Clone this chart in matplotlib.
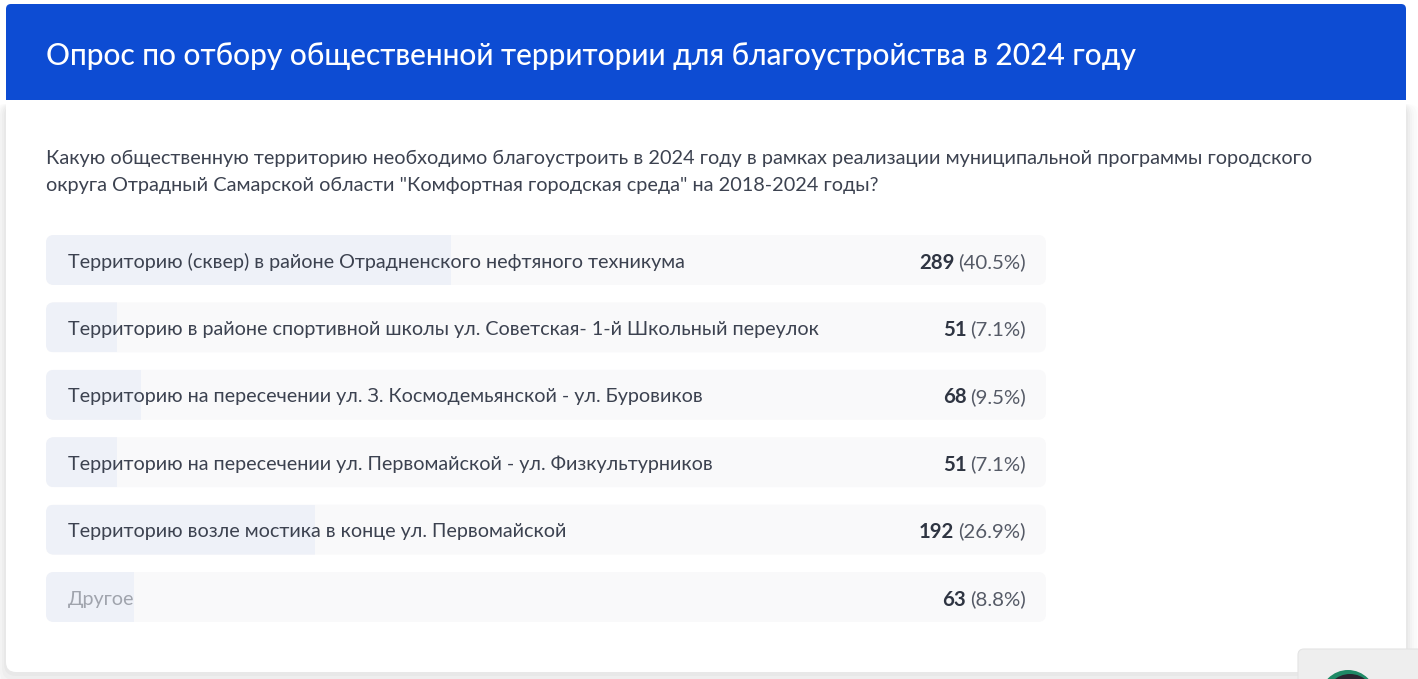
"""Survey results card: public territory vote, 2024."""

import matplotlib.patches as mpatches
import matplotlib.pyplot as plt

W, H = 1418, 679

TITLE = "Опрос по отбору общественной территории для благоустройства в 2024 году"
QUESTION = [
    "Какую общественную территорию необходимо благоустроить в 2024 году в рамках реализации муниципальной программы городского",
    "округа Отрадный Самарской области \"Комфортная городская среда\" на 2018-2024 годы?",
]
OPTIONS = [
    "Территорию (сквер) в районе Отрадненского нефтяного техникума",
    "Территорию в районе спортивной школы ул. Советская- 1-й Школьный переулок",
    "Территорию на пересечении ул. З. Космодемьянской - ул. Буровиков",
    "Территорию на пересечении ул. Первомайской - ул. Физкультурников",
    "Территорию возле мостика в конце ул. Первомайской",
    "Другое",
]
VOTES = [289, 51, 68, 51, 192, 63]
PERCENT = [40.5, 7.1, 9.5, 7.1, 26.9, 8.8]

BLUE = "#0d4cd3"
TEXT = "#3c4250"
DARK = "#2f3542"
SHARE = "#555a66"
MUTED = "#a0a4ad"
TRACK = "#f9f9fa"
FILL = "#eef1f8"

plt.rcParams["font.family"] = ["Lato", "Open Sans", "DejaVu Sans"]


def px_axes(fig, left, top, width, height):
    return fig.add_axes([left / W, 1 - (top + height) / H, width / W, height / H])


fig = plt.figure(figsize=(W / 100, H / 100), dpi=100, facecolor="white")

# page layer, in pixels
page = px_axes(fig, 0, 0, W, H)
page.set_xlim(0, W)
page.set_ylim(H, 0)
page.axis("off")

# soft card shadow, starts just under the header
for grow, alpha in [(14, 0.008), (11, 0.01), (8, 0.012), (6, 0.014), (4, 0.018), (2, 0.025)]:
    page.add_patch(mpatches.FancyBboxPatch(
        (6 - grow, 104), 1400 + 2 * grow, 568 + 2 * grow,
        boxstyle="round,pad=0,rounding_size=12", linewidth=0,
        facecolor="black", alpha=alpha))
page.add_patch(mpatches.FancyBboxPatch(
    (6, 90), 1400, 582, boxstyle="round,pad=0,rounding_size=10",
    linewidth=0, facecolor="white"))

# blue header, rounded on top only
page.add_patch(mpatches.FancyBboxPatch(
    (6, 4), 1400, 60, boxstyle="round,pad=0,rounding_size=5",
    linewidth=0, facecolor=BLUE))
page.add_patch(mpatches.Rectangle((6, 30), 1400, 70, linewidth=0, facecolor=BLUE))
page.text(46, 53, TITLE, color="white", fontsize=21.51, fontweight="medium",
          va="center_baseline", ha="left")

for y, line in zip([157, 184], QUESTION):
    page.text(46, y, line, color=TEXT, fontsize=14.34, va="center_baseline", ha="left")

# chat widget in the corner
page.add_patch(mpatches.FancyBboxPatch(
    (1298, 649), 140, 60, boxstyle="round,pad=0,rounding_size=6",
    linewidth=0.8, edgecolor="#e4e4e4", facecolor="#eeeeee", zorder=5))
page.add_patch(mpatches.Circle((1348, 698), 28, linewidth=0, facecolor="#1f8a66", zorder=6))
page.add_patch(mpatches.Circle((1350, 699), 25, linewidth=0, facecolor="#2a2530", zorder=7))

# result bars, x axis is percent of votes
ax = px_axes(fig, 46, 235, 1000, 387)
ax.patch.set_alpha(0)
ax.axis("off")
ax.set_xlim(0, 100)
pitch = (387 - 50) / (len(OPTIONS) - 1)
half = 25 / pitch
ax.set_ylim(len(OPTIONS) - 1 + half, -half)

renderer = fig.canvas.get_renderer()
for i, (label, votes, pct) in enumerate(zip(OPTIONS, VOTES, PERCENT)):
    # x data is 10 px per unit, y data is `pitch` px per unit
    track = mpatches.FancyBboxPatch(
        (0, i - half), 100, 2 * half,
        boxstyle="round,pad=0,rounding_size=0.8", mutation_aspect=10 / pitch,
        linewidth=0, facecolor=TRACK, zorder=1)
    ax.add_patch(track)
    bars = ax.barh(i, pct, height=2 * half, color=FILL, linewidth=0, zorder=2)
    bars[0].set_clip_path(track)

    color = MUTED if label == "Другое" else TEXT
    ax.annotate(label, (0, i), xytext=(22, -0.6), textcoords="offset pixels",
                color=color, fontsize=14.26, va="center_baseline", ha="left", zorder=3)

    # count in bold, share in regular, right aligned together
    share = ax.annotate(f"({pct}%)", (100, i), xytext=(-20, -0.6),
                        textcoords="offset pixels", color=SHARE, fontsize=14.7,
                        va="center_baseline", ha="right", zorder=3)
    share_w = share.get_window_extent(renderer).width
    ax.annotate(str(votes), (100, i), xytext=(-20 - share_w - 4, -0.6),
                textcoords="offset pixels", color=DARK, fontsize=14.7,
                fontweight="bold", va="center_baseline", ha="right", zorder=3)

fig.savefig("out.png", dpi=100, facecolor=fig.get_facecolor())
